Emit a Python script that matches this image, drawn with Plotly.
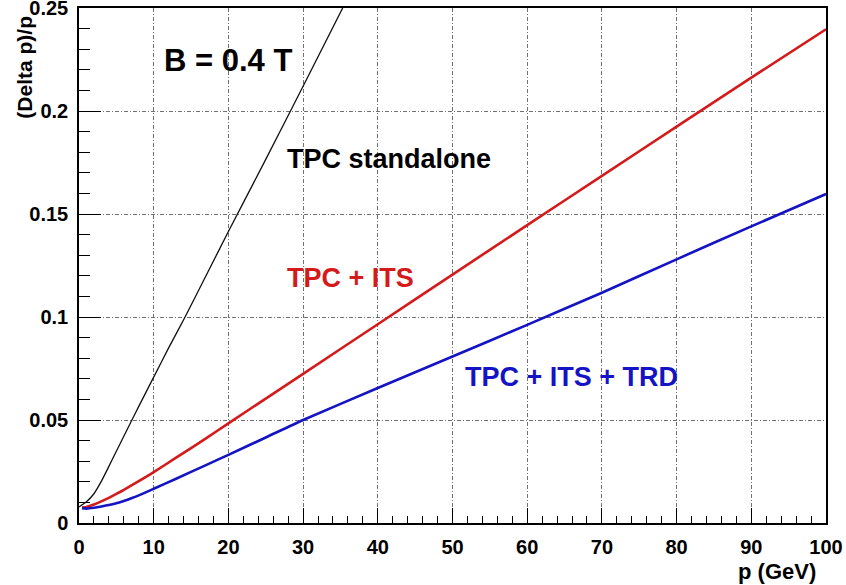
import plotly.graph_objects as go

# ---- data ----
p_tpc = [0, 1, 2, 3, 4, 5, 6, 7, 8, 10, 12, 14.2, 17, 20, 25, 30, 35.3]
res_tpc = [0.0078, 0.0103, 0.0142, 0.0203, 0.0275, 0.0348, 0.0421, 0.0494, 0.0566,
           0.0708, 0.0850, 0.1000, 0.1200, 0.1415, 0.1765, 0.2120, 0.2500]

p_its = [0.4, 1, 2, 3, 4, 5, 6, 8, 10, 13, 17, 20, 25, 30, 40, 50, 60,
         70, 80, 90, 100]
res_its = [0.0075, 0.0078, 0.0090, 0.0105, 0.0122, 0.0141, 0.0161, 0.0203, 0.0247,
           0.0317, 0.0411, 0.0484, 0.0604, 0.0724, 0.0965, 0.1206, 0.1446,
           0.1685, 0.1924, 0.2162, 0.2397]

p_trd = [0.4, 1, 2, 3, 4, 5, 6, 7, 8, 10, 13, 17, 20, 25, 30, 40, 50, 60,
         70, 80, 90, 100]
res_trd = [0.0072, 0.0070, 0.0074, 0.0080, 0.0087, 0.0096, 0.0107, 0.0120, 0.0134,
           0.0166, 0.0215, 0.0281, 0.0331, 0.0415, 0.0500, 0.0655, 0.0808, 0.0962,
           0.1118, 0.1280, 0.1440, 0.1597]

x_tickvals = [0, 10, 20, 30, 40, 50, 60, 70, 80, 90, 100]
x_ticktext = ["0", "10", "20", "30", "40", "50", "60", "70", "80", "90", "100"]
y_tickvals = [0, 0.05, 0.1, 0.15, 0.2, 0.25]
y_ticktext = ["0", "0.05", "0.1", "0.15", "0.2", "0.25"]

FONT = "Liberation Sans, Arial, Helvetica, sans-serif"
RED = "#d41a1a"
BLUE = "#1414c4"

fig = go.Figure()
fig.add_trace(go.Scatter(x=p_tpc, y=res_tpc, mode="lines",
                         line=dict(color="#111111", width=1.3, shape="spline", smoothing=0.5),
                         name="TPC standalone"))
fig.add_trace(go.Scatter(x=p_its, y=res_its, mode="lines",
                         line=dict(color=RED, width=2.6, shape="spline", smoothing=0.6),
                         name="TPC + ITS"))
fig.add_trace(go.Scatter(x=p_trd, y=res_trd, mode="lines",
                         line=dict(color=BLUE, width=2.6, shape="spline", smoothing=0.6),
                         name="TPC + ITS + TRD"))

grid_color = "#707070"
fig.update_xaxes(
    range=[0, 100], tickvals=x_tickvals, ticktext=x_ticktext,
    showline=True, linecolor="black", linewidth=1.5, mirror=True,
    ticks="inside", ticklen=15, tickwidth=1.2, tickcolor="black",
    showgrid=True, gridcolor=grid_color, gridwidth=1, griddash="4px,2px,1px,2px",
    minor=dict(dtick=2, ticks="inside", ticklen=7, tickwidth=1, tickcolor="black", showgrid=False),
    tickfont=dict(family=FONT, size=20, color="black", weight="bold"),
    ticklabelstandoff=5, zeroline=False, automargin=False, ticklabeloverflow="allow",
)
fig.update_yaxes(
    range=[0, 0.25], tickvals=y_tickvals, ticktext=y_ticktext,
    showline=True, linecolor="black", linewidth=1.5, mirror=True,
    ticks="inside", ticklen=22, tickwidth=1.2, tickcolor="black",
    showgrid=True, gridcolor=grid_color, gridwidth=1, griddash="4px,2px,1px,2px",
    minor=dict(dtick=0.01, ticks="inside", ticklen=11, tickwidth=1, tickcolor="black", showgrid=False),
    tickfont=dict(family=FONT, size=20, color="black", weight="bold"),
    ticklabelstandoff=5, zeroline=False, automargin=False, ticklabeloverflow="allow",
)

annots = [
    dict(x=19.95, y=0.2243, xref="x", yref="y", text="B = 0.4 T",
         font=dict(family=FONT, size=31, color="black", weight="bold")),
    dict(x=41.5, y=0.1765, xref="x", yref="y", text="TPC standalone",
         font=dict(family=FONT, size=27, color="black", weight="bold")),
    dict(x=36.3, y=0.119, xref="x", yref="y", text="TPC + ITS",
         font=dict(family=FONT, size=27, color=RED, weight="bold")),
    dict(x=65.9, y=0.071, xref="x", yref="y", text="TPC + ITS + TRD",
         font=dict(family=FONT, size=27, color=BLUE, weight="bold")),
    dict(x=-0.0723, y=0.99, xref="paper", yref="paper", text="(Delta p)/p",
         textangle=-90, xanchor="center", yanchor="top",
         font=dict(family=FONT, size=21, color="black", weight="bold")),
    dict(x=0.989, y=-0.095, xref="paper", yref="paper", text="p (GeV)",
         xanchor="right", yanchor="middle",
         font=dict(family=FONT, size=22, color="black", weight="bold")),
]
for a in annots:
    a.setdefault("showarrow", False)
    fig.add_annotation(**a)

fig.update_layout(
    width=846, height=585,
    margin=dict(l=79, r=20, t=8, b=62),
    paper_bgcolor="white", plot_bgcolor="white",
    showlegend=False,
)

fig.write_html("out.html", config={"displayModeBar": False},
               post_script="document.body.style.margin='0px';document.body.style.padding='0px';")
